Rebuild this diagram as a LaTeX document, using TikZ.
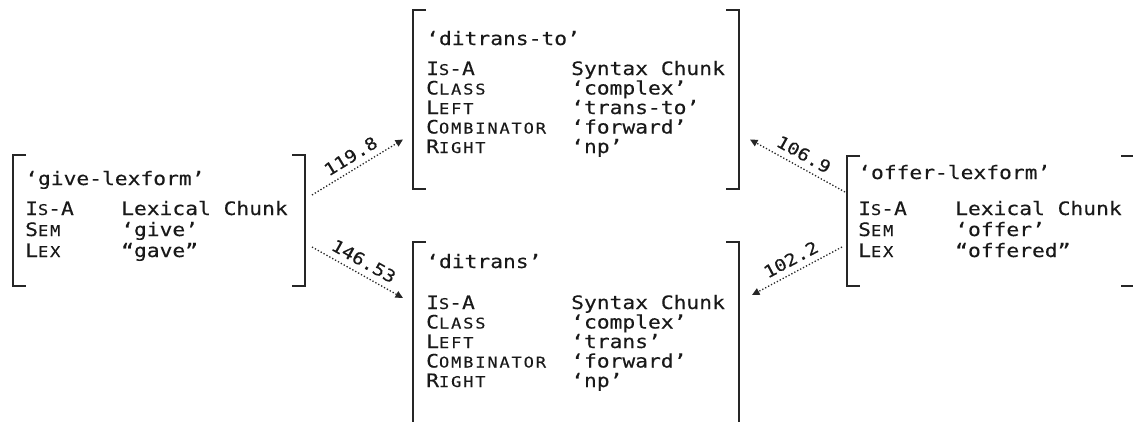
\documentclass[tikz,border=0pt]{standalone}
\usepackage{fontspec}
\usetikzlibrary{arrows.meta}
% monospaced face for the feature structures; a spaced copy for small capitals
\newfontfamily\avmfont[FakeStretch=1.15,FakeBold=0.3]{DejaVu Sans Mono}
\newfontfamily\avmscfont[FakeStretch=1.15,FakeBold=0.3,LetterSpace=12.5]{DejaVu Sans Mono}
\newcommand\avmsc[2]{#1{\avmscfont\fontsize{14.8pt}{14.8pt}\selectfont #2}}
% column positions of the current structure
\newcommand\keyx{0}
\newcommand\valx{0}
% one attribute-value row: name, baseline, attribute, value
\newcommand\avmrow[4]{%
  \node[keytext] (#1-k) at (\keyx,#2) {#3};
  \node[valtext] (#1-v) at (\valx,#2) {#4};}
% square brackets round a structure node
\newcommand\avmbrackets[1]{%
  \draw[bracketline] ([xshift=13pt]#1.north west) -- (#1.north west)
     -- (#1.south west) -- ([xshift=13pt]#1.south west);
  \draw[bracketline] ([xshift=-13pt]#1.north east) -- (#1.north east)
     -- (#1.south east) -- ([xshift=-13pt]#1.south east);}
\begin{document}
\begin{tikzpicture}[x=1pt,y=-1pt,
  avmbox/.style={rectangle,inner sep=0pt,outer sep=0pt},
  bracketline/.style={line width=1.4pt,color=black!85},
  keytext/.style={anchor=base west,inner sep=0pt,text=black!90,
    font=\avmfont\fontsize{18.5pt}{22pt}\selectfont},
  valtext/.style={keytext},
  titletext/.style={keytext},
  weighttext/.style={inner sep=1pt,text=black!90,
    font=\avmfont\fontsize{17pt}{17pt}\selectfont},
  link/.style={line width=1.3pt,color=black!85,dash pattern=on 1.3pt off 2pt,
    -{Triangle[length=7.5pt,width=7pt]}},
]
\useasboundingbox (0,0) rectangle (1133,421);
\clip (0,0) rectangle (1133,421);

% ---- structure frames
\node[avmbox,minimum width=292pt,minimum height=131pt] (give) at (159,220.5) {};
\node[avmbox,minimum width=326pt,minimum height=179pt] (ditransto) at (576,99.5) {};
\node[avmbox,minimum width=326pt,minimum height=228pt] (ditrans) at (576,356) {};
\node[avmbox,minimum width=287pt,minimum height=130pt] (offer) at (990.5,221) {};
\avmbrackets{give}
\avmbrackets{ditransto}
\avmbrackets{ditrans}
\avmbrackets{offer}

% ---- 'give-lexform'
\renewcommand\keyx{25}\renewcommand\valx{121}
\node[titletext] (give-t) at (\keyx,185) {‘give-lexform’};
\avmrow{give-isa}{215}{\avmsc{I}{S}-A}{Lexical Chunk}
\avmrow{give-sem}{236}{\avmsc{S}{EM}}{‘give’}
\avmrow{give-lex}{257}{\avmsc{L}{EX}}{“gave”}

% ---- 'ditrans-to'
\renewcommand\keyx{426}\renewcommand\valx{571}
\node[titletext] (dt-t) at (\keyx,45) {‘ditrans-to’};
\avmrow{dt-isa}{75}{\avmsc{I}{S}-A}{Syntax Chunk}
\avmrow{dt-class}{94.5}{\avmsc{C}{LASS}}{‘complex’}
\avmrow{dt-left}{114}{\avmsc{L}{EFT}}{‘trans-to’}
\avmrow{dt-comb}{133.5}{\avmsc{C}{OMBINATOR}}{‘forward’}
\avmrow{dt-right}{153}{\avmsc{R}{IGHT}}{‘np’}

% ---- 'ditrans'
\node[titletext] (d-t) at (\keyx,268) {‘ditrans’};
\avmrow{d-isa}{309}{\avmsc{I}{S}-A}{Syntax Chunk}
\avmrow{d-class}{328.5}{\avmsc{C}{LASS}}{‘complex’}
\avmrow{d-left}{348}{\avmsc{L}{EFT}}{‘trans’}
\avmrow{d-comb}{367.5}{\avmsc{C}{OMBINATOR}}{‘forward’}
\avmrow{d-right}{387}{\avmsc{R}{IGHT}}{‘np’}

% ---- 'offer-lexform'
\renewcommand\keyx{858}\renewcommand\valx{955}
\node[titletext] (offer-t) at (\keyx,179) {‘offer-lexform’};
\avmrow{offer-isa}{215}{\avmsc{I}{S}-A}{Lexical Chunk}
\avmrow{offer-sem}{236}{\avmsc{S}{EM}}{‘offer’}
\avmrow{offer-lex}{257}{\avmsc{L}{EX}}{“offered”}

% ---- weighted links
\draw[link] ([xshift=7pt,yshift=25.5pt]give.east)
  -- node[midway,sloped,above=5pt,weighttext] (w1) {119.8}
  ([xshift=-10pt,yshift=-40pt]ditransto.west);
\draw[link] ([xshift=7pt,yshift=-26.5pt]give.east)
  -- node[midway,sloped,above=5pt,weighttext] (w2) {146.53}
  ([xshift=-10pt,yshift=-56pt]ditrans.north west);
\draw[link] ([xshift=-2pt,yshift=29pt]offer.west)
  -- node[midway,sloped,above=5pt,weighttext] (w3) {106.9}
  ([xshift=11pt,yshift=-40pt]ditransto.east);
\draw[link] ([xshift=-5pt,yshift=-26pt]offer.west)
  -- node[midway,sloped,above=5pt,weighttext] (w4) {102.2}
  ([xshift=13pt,yshift=-53pt]ditrans.north east);
\end{tikzpicture}
\end{document}
